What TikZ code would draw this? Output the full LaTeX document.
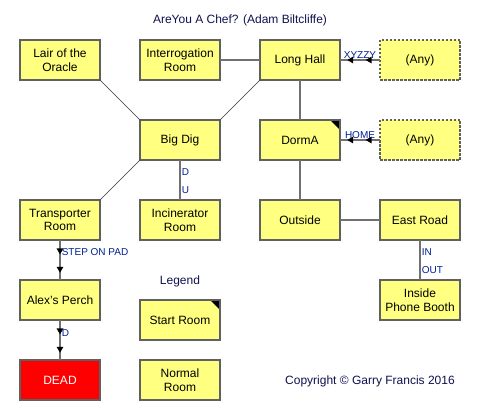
\documentclass[tikz,border=0pt]{standalone}
\usepackage{fontspec}
\setmainfont{Liberation Sans}
\usetikzlibrary{positioning, arrows.meta}
\usetikzlibrary{decorations.markings}
\definecolor{my_yellow}{RGB}{255, 255, 128}
\definecolor{my_red}{RGB}{255, 0, 0}
\definecolor{my_border}{RGB}{96, 96, 96}
\definecolor{my_line}{RGB}{112, 112, 112}
\definecolor{my_navy}{RGB}{16, 16, 80}
\definecolor{my_blue}{RGB}{0, 30, 150}
\tikzset {
  room/.style = {draw=my_border, line width=1.6pt, fill=my_yellow, rectangle, align=center, minimum height=40pt, minimum width=80pt, inner sep=2pt, outer sep=0pt, font=\fontsize{12pt}{13.5pt}\selectfont},
  anyroom/.style = {room, dash pattern=on 2.5pt off 1.5pt},
  deadroom/.style = {room, fill=my_red, text=white},
  % black corner flag for the start room
  startroom/.style = {room, path picture={\fill[black] ([xshift=-10pt]path picture bounding box.north east) -- (path picture bounding box.north east) -- ([yshift=-10pt]path picture bounding box.north east) -- cycle;}},
  conn/.style = {draw=my_line, line width=1.6pt},
  diag/.style = {draw=black!80, line width=0.7pt},
  oneway/.style = {conn, decoration={markings,
      mark=at position 0.36 with {\arrow[black]{Triangle[length=6pt, width=6.5pt]}},
      mark=at position 0.82 with {\arrow[black]{Triangle[length=6pt, width=6.5pt]}}},
    postaction={decorate}},
  lbl/.style = {text=my_blue, inner sep=1pt, font=\fontsize{10pt}{11pt}\selectfont},
  plain/.style = {text=my_navy, inner sep=0pt, font=\fontsize{12pt}{13.5pt}\selectfont}
}

\begin{document}
\begin{tikzpicture}[node distance=40pt]
    \useasboundingbox (0pt,0pt) rectangle (480pt,-420pt);
    \node[plain] (title) at (240pt,-20pt) {AreYou A Chef? (Adam Biltcliffe)};

    \node[room] (lair) at (60pt,-60pt) {Lair of the\\Oracle};
    \node[room, right=of lair] (interrog) {Interrogation\\Room};
    \node[room, right=of interrog] (longhall) {Long Hall};
    \node[anyroom, right=of longhall] (any1) {(Any)};
    \node[room, below=of interrog] (bigdig) {Big Dig};
    \node[startroom, below=of longhall] (dorma) {DormA};
    \node[anyroom, below=of any1] (any2) {(Any)};
    \node[room, below=120pt of lair] (transporter) {Transporter\\Room};
    \node[room, below=of bigdig] (incinerator) {Incinerator\\Room};
    \node[room, below=of dorma] (outside) {Outside};
    \node[room, below=of any2] (eastroad) {East Road};
    \node[room, below=of transporter] (alex) {Alex's Perch};
    \node[room, below=of eastroad] (booth) {Inside\\Phone Booth};
    \node[deadroom, below=of alex] (dead) {DEAD};

    \node[startroom, below=60pt of incinerator] (legstart) {Start Room};
    \node[room, below=20pt of legstart] (legnormal) {Normal\\Room};
    \node[plain, above=13pt of legstart] (legend) {Legend};
    \node[plain] (copyright) at (370pt,-381pt) {Copyright \textcopyright{} Garry Francis 2016};

    \draw[diag] (lair.south east) -- (bigdig.north west);
    \draw[diag] (longhall.south west) -- (bigdig.north east);
    \draw[diag] (bigdig.south west) -- (transporter.north east);
    \draw[conn] (interrog) -- (longhall);
    \draw[conn] (longhall) -- (dorma);
    \draw[conn] (dorma) -- (outside);
    \draw[conn] (outside) -- (eastroad);
    \draw[conn] (bigdig) -- node[lbl, right, pos=0.3] {D} node[lbl, right, pos=0.75] {U} (incinerator);
    \draw[conn] (eastroad) -- node[lbl, right, pos=0.3] {IN} node[lbl, right, pos=0.75] {OUT} (booth);
    \draw[oneway] (any1) -- node[lbl, above] {XYZZY} (longhall);
    \draw[oneway] (any2) -- node[lbl, above] {HOME} (dorma);
    \draw[oneway] (transporter) -- node[lbl, right, pos=0.3] {STEP ON PAD} (alex);
    \draw[oneway] (alex) -- node[lbl, right, pos=0.32] {D} (dead);

  \end{tikzpicture}
\end{document}
